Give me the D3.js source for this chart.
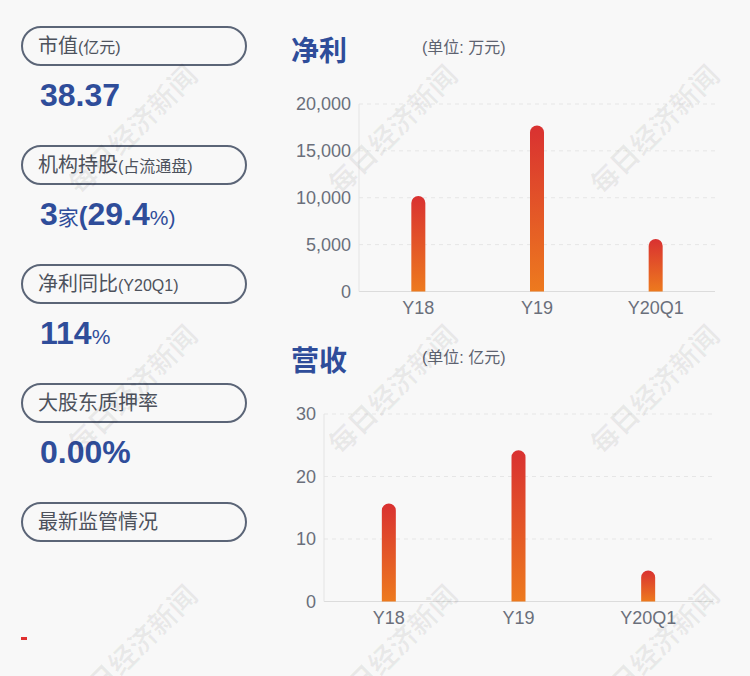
<!DOCTYPE html>
<html><head><meta charset="utf-8">
<script src="https://cdn.jsdelivr.net/npm/d3@7/dist/d3.min.js"></script>
<style>
html,body{margin:0;padding:0;background:#f8f8f8;}
svg{display:block;font-family:"Liberation Sans","Noto Sans CJK SC",sans-serif;}
</style></head>
<body><svg id="c" width="750" height="676"></svg>
<script>
const categories = ["Y18", "Y19", "Y20Q1"];
const profitValues = [10200, 17700, 5600];     // 净利 (万元)
const revenueValues = [15.7, 24.2, 4.95];       // 营收 (亿元)
const profitTicks = [0, 5000, 10000, 15000, 20000];
const revenueTicks = [0, 10, 20, 30];
const pillLabels = [["市值", "(亿元)"], ["机构持股", "(占流通盘)"], ["净利同比", "(Y20Q1)"], ["大股东质押率", ""], ["最新监管情况", ""]];

const svg = d3.select("#c");
const blue = "#2f4d9a";

svg.append("rect").attr("width", 750).attr("height", 676).attr("fill", "#f8f8f8");

const defs = svg.append("defs");
const g = defs.append("linearGradient").attr("id", "barGrad").attr("x1", 0).attr("y1", 0).attr("x2", 0).attr("y2", 1);
g.append("stop").attr("offset", "0%").attr("stop-color", "#d93131");
g.append("stop").attr("offset", "100%").attr("stop-color", "#ed7a1e");

// left panel pills
pillLabels.forEach((p, i) => {
  const y = 27 + i * 119;
  svg.append("rect").attr("x", 22).attr("y", y).attr("width", 224).attr("height", 38)
    .attr("rx", 19).attr("fill", "none").attr("stroke", "#5b6577").attr("stroke-width", 2);
  const t = svg.append("text").attr("x", 38).attr("y", y + 26).attr("fill", "#4d525c");
  t.append("tspan").attr("font-size", 20).text(p[0]);
  if (p[1]) t.append("tspan").attr("font-size", 16).text(p[1]);
});

function valueText(y, parts) {
  const t = svg.append("text").attr("x", 40).attr("y", y).attr("fill", blue).attr("font-weight", "bold");
  parts.forEach(p => t.append("tspan").attr("font-size", p[1]).attr("font-weight", p[2] || "bold").text(p[0]));
}
valueText(106, [["38.37", 32]]);
valueText(225, [["3", 32], ["家", 21, "normal"], ["(", 26], ["29.4", 32], ["%", 21, "normal"], [")", 21, "normal"]]);
valueText(344, [["114", 32], ["%", 21, "normal"]]);
valueText(463, [["0.00%", 32]]);

svg.append("rect").attr("x", 21).attr("y", 637).attr("width", 6).attr("height", 3).attr("fill", "#e0302f");

function barChart(opts) {
  const { title, unit, titleY, x0, x1, yTop, yBot, max, ticks, values, fmt, labelY } = opts;
  svg.append("text").attr("x", 291).attr("y", titleY).attr("font-size", 28).attr("font-weight", "bold")
    .attr("fill", blue).text(title);
  svg.append("text").attr("x", 422).attr("y", titleY - 8).attr("font-size", 16).attr("fill", "#5d6270").text(unit);

  const x = d3.scaleBand().domain(categories).range([x0, x1]);
  const y = d3.scaleLinear().domain([0, max]).range([yBot, yTop]);

  svg.append("g").selectAll("line").data(ticks.filter(d => d > 0)).join("line")
    .attr("x1", x0).attr("x2", x1).attr("y1", d => y(d)).attr("y2", d => y(d))
    .attr("stroke", "#e6e6e6").attr("stroke-dasharray", "4,4");
  svg.append("line").attr("x1", x0).attr("x2", x1).attr("y1", yBot).attr("y2", yBot).attr("stroke", "#dcdcdc");
  svg.append("line").attr("x1", x0).attr("x2", x0).attr("y1", yTop).attr("y2", yBot).attr("stroke", "#e4e4e4");

  const yAxis = d3.axisLeft(y).tickValues(ticks).tickFormat(fmt).tickSize(0).tickPadding(8);
  const ya = svg.append("g").attr("transform", `translate(${x0},0)`).call(yAxis);
  ya.select(".domain").remove();
  ya.selectAll("text").attr("font-size", 18).attr("fill", "#6a6f7b").attr("font-family", "Liberation Sans");

  const xAxis = d3.axisBottom(x).tickSize(0).tickPadding(0);
  const xa = svg.append("g").attr("transform", `translate(0,${labelY})`).call(xAxis);
  xa.select(".domain").remove();
  xa.selectAll("text").attr("font-size", 18).attr("fill", "#6a6f7b").attr("dy", 0).attr("y", 0)
    .attr("font-family", "Liberation Sans");

  const bw = 14, r = 7;
  svg.append("g").selectAll("path").data(values).join("path")
    .attr("fill", "url(#barGrad)")
    .attr("d", (d, i) => {
      const cx = x(categories[i]) + x.bandwidth() / 2;
      const top = y(d), l = cx - bw / 2, rr = cx + bw / 2;
      const p = d3.path();
      p.moveTo(l, yBot);
      p.lineTo(l, top + r);
      p.arc(cx, top + r, r, Math.PI, 0);
      p.lineTo(rr, yBot);
      p.closePath();
      return p.toString();
    });
}

barChart({ title: "净利", unit: "(单位: 万元)", titleY: 61, x0: 359, x1: 715, yTop: 104, yBot: 291.5,
  max: 20000, ticks: profitTicks, values: profitValues, fmt: d3.format(","), labelY: 314 });
barChart({ title: "营收", unit: "(单位: 亿元)", titleY: 371, x0: 324, x1: 713, yTop: 414, yBot: 601.5,
  max: 30, ticks: revenueTicks, values: revenueValues, fmt: d3.format("d"), labelY: 624 });

// watermarks (the bottom row is clipped by the page edge, as in the reference)
const wmX = [133, 393, 655], wmY = [130, 390, 650];
const wm = svg.append("g").attr("pointer-events", "none");
wmY.forEach(cy => wmX.forEach(cx => {
  wm.append("text").attr("transform", `translate(${cx},${cy}) rotate(-45)`)
    .attr("text-anchor", "middle").attr("dy", "0.35em")
    .attr("font-size", 28).attr("font-weight", "bold").attr("fill", "rgba(0,0,0,0.06)")
    .attr("font-family", "Noto Sans CJK SC").text("每日经济新闻");
}));
</script></body></html>
